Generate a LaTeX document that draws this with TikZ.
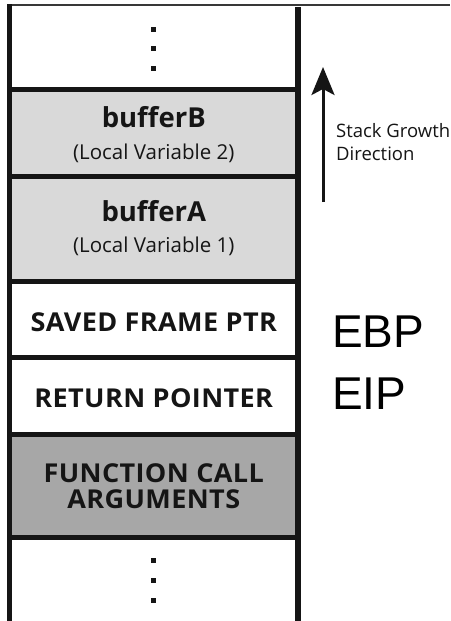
\documentclass[tikz,border=0pt]{standalone}
\usepackage{fontspec}
\setmainfont{Open Sans}
\newfontfamily\capsfont[LetterSpace=1.5,FakeStretch=1.04]{Open Sans}
\newfontfamily\regfont{Liberation Sans}
\usetikzlibrary{arrows.meta}
\definecolor{ink}{HTML}{151515}
\definecolor{lightcell}{HTML}{D9D9D9}
\definecolor{darkcell}{HTML}{A7A7A7}

\begin{document}
\begin{tikzpicture}[x=1pt,y=-1pt,
  wall/.style={line width=5pt, draw=ink},
  cell/.style={rectangle, draw=none, minimum width=288.5pt, inner sep=0pt, outer sep=0pt},
  title/.style={anchor=base, text=ink, inner sep=0pt, font=\fontsize{27.5}{30}\selectfont\bfseries},
  sub/.style={anchor=base, text=ink, inner sep=0pt, font=\fontsize{20.5}{24}\selectfont},
  caps/.style={anchor=base, text=ink, inner sep=0pt, font=\capsfont\fontsize{26}{27}\selectfont\bfseries},
  reg/.style={anchor=base west, inner sep=0pt, font=\regfont\fontsize{46}{50}\selectfont},
  note/.style={anchor=base west, text=ink, inner sep=0pt, font=\fontsize{18.5}{23}\selectfont},
  dot/.style={rectangle, fill=ink, minimum size=5pt, inner sep=0pt},
]
\useasboundingbox (0,0) rectangle (450,621);

% shaded stack slots
\node[cell, fill=lightcell, minimum height=86.5pt] (slotB) at (153.75,132.75) {};
\node[cell, fill=lightcell, minimum height=105pt]  (slotA) at (153.75,228.5) {};
\node[cell, minimum height=76pt]  (slotEBP) at (153.75,319) {};
\node[cell, minimum height=77pt]  (slotRET) at (153.75,395.5) {};
\node[cell, fill=darkcell, minimum height=103.5pt] (slotARG) at (153.75,485.75) {};

% top rule and stack walls
\draw[line width=2pt, draw=ink!85] (7,5) -- (450,5);
\draw[wall] (9.5,4) -- (9.5,621);
\draw[line width=5.5pt, draw=ink] (298,7) -- (298,621);

% slot separators
\foreach \yy in {89.5,176,281,357,434,537.5}
  \draw[wall] (9.5,\yy) -- (298,\yy);

% ellipsis dots
\node[dot] (dt1) at (153.7,29) {};
\node[dot] (dt2) at (153.7,48.5) {};
\node[dot] (dt3) at (153.7,68) {};
\node[dot] (db1) at (153.7,560) {};
\node[dot] (db2) at (153.7,580) {};
\node[dot] (db3) at (153.7,600) {};

% slot labels
\node[title] (tB) at (153.75,127) {bufferB};
\node[sub]   (sB) at (153.75,159) {(Local Variable 2)};
\node[title] (tA) at (153.75,221) {bufferA};
\node[sub]   (sA) at (153.75,252) {(Local Variable 1)};
\node[caps]  (tEBP) at (153.75,331) {SAVED FRAME PTR};
\node[caps]  (tRET) at (153.75,407) {RETURN POINTER};
\node[caps]  (tARG1) at (153.75,482) {FUNCTION CALL};
\node[caps]  (tARG2) at (153.75,508) {ARGUMENTS};

% register names
\node[reg] (ebp) at (332,347) {EBP};
\node[reg] (eip) at (332,409) {EIP};

% growth direction
\coordinate (gfoot) at (323,202);
\coordinate (gtip) at (323,67);
\draw[line width=3pt, draw=ink, -{Stealth[length=28pt,width=23pt,inset=6pt]}] (gfoot) -- (gtip);
\node[note] (g1) at (336,137) {Stack Growth};
\node[note] (g2) at (336,160) {Direction};
\end{tikzpicture}
\end{document}
